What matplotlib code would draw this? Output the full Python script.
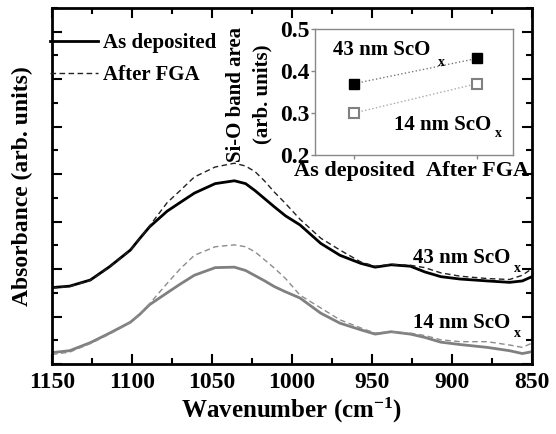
import matplotlib
matplotlib.use("Agg")
import matplotlib.pyplot as plt
from matplotlib.ticker import MultipleLocator

plt.rcParams['font.family'] = ['Liberation Serif', 'DejaVu Serif']
plt.rcParams['font.weight'] = 'bold'
plt.rcParams['axes.labelweight'] = 'bold'
plt.rcParams['mathtext.fontset'] = 'custom'
plt.rcParams['mathtext.rm'] = 'Liberation Serif:bold'
plt.rcParams['mathtext.it'] = 'Liberation Serif:bold'
plt.rcParams['mathtext.bf'] = 'Liberation Serif:bold'

# FTIR spectra (wavenumber in cm-1, absorbance offset in arb. units)
wavenumber = [1150, 1139, 1126, 1114, 1101, 1095, 1089, 1078, 1070, 1061, 1048, 1036,
              1029, 1023, 1017, 1011, 1004, 995, 982, 970, 957, 948, 938, 926, 917,
              907, 895, 878, 864, 856, 850]
thick_asdep = [1.61, 1.64, 1.77, 2.05, 2.40, 2.65, 2.89, 3.22, 3.40, 3.60, 3.80, 3.86,
               3.80, 3.65, 3.48, 3.31, 3.12, 2.93, 2.54, 2.29, 2.12, 2.04, 2.09, 2.06,
               1.94, 1.84, 1.79, 1.75, 1.72, 1.75, 1.84]
thick_fga = [1.60, 1.63, 1.76, 2.04, 2.40, 2.65, 2.91, 3.40, 3.65, 3.94, 4.15, 4.23,
             4.17, 4.05, 3.85, 3.62, 3.38, 3.05, 2.65, 2.40, 2.15, 2.06, 2.10, 2.08,
             2.03, 1.92, 1.85, 1.80, 1.78, 1.87, 2.01]
thin_asdep = [0.24, 0.28, 0.45, 0.65, 0.88, 1.05, 1.25, 1.50, 1.68, 1.87, 2.03, 2.04,
              1.97, 1.86, 1.75, 1.63, 1.52, 1.39, 1.07, 0.86, 0.72, 0.63, 0.68, 0.63,
              0.56, 0.46, 0.41, 0.35, 0.28, 0.22, 0.26]
thin_fga = [0.20, 0.25, 0.43, 0.63, 0.87, 1.05, 1.27, 1.70, 2.00, 2.29, 2.47, 2.51,
            2.47, 2.36, 2.19, 2.02, 1.80, 1.45, 1.18, 0.93, 0.76, 0.65, 0.68, 0.65,
            0.60, 0.51, 0.47, 0.47, 0.40, 0.35, 0.44]

# inset: Si-O band area
conditions = ['As deposited', 'After FGA']
area_43nm = [0.37, 0.43]
area_14nm = [0.30, 0.37]

fig = plt.figure(figsize=(5.56, 4.34), dpi=100)
ax = fig.add_axes([0.0935, 0.1613, 0.8633, 0.8203])

ax.plot(wavenumber, thick_asdep, color='black', lw=2.0, label='As deposited')
ax.plot(wavenumber, thick_fga, color='#222222', lw=1.0, ls=(0, (4, 2.5)), label='After FGA')
ax.plot(wavenumber, thin_asdep, color='#808080', lw=2.0)
ax.plot(wavenumber, thin_fga, color='#8c8c8c', lw=1.0, ls=(0, (4, 2.5)))

ax.set_xlim(1150, 850)
ax.set_ylim(0, 7.5)
ax.xaxis.set_major_locator(MultipleLocator(50))
ax.xaxis.set_minor_locator(MultipleLocator(25))
ax.yaxis.set_major_locator(MultipleLocator(1))
ax.yaxis.set_minor_locator(MultipleLocator(0.5))
ax.tick_params(which='both', direction='in', top=True, right=True, width=1.5)
ax.tick_params(which='major', length=7, labelsize=17, pad=6)
ax.tick_params(which='minor', length=4)
ax.set_yticklabels([])
for s in ax.spines.values():
    s.set_linewidth(2)

ax.set_xlabel('Wavenumber (cm$^{-1}$)', fontsize=18, labelpad=2)
ax.set_ylabel('Absorbance (arb. units)', fontsize=17, labelpad=8)

ax.legend(loc='upper left', bbox_to_anchor=(-0.005, 0.93), frameon=False, fontsize=15,
          handlelength=2.3, handletextpad=0.25, labelspacing=0.6, borderaxespad=0,
          borderpad=0)

# annotations on main plot
ax.text(0.955, 0.284, '43 nm ScO', transform=ax.transAxes, ha='right',
        va='baseline', fontsize=15)
ax.text(0.969, 0.258, 'x', transform=ax.transAxes, ha='center',
        va='baseline', fontsize=10)
ax.text(0.955, 0.101, '14 nm ScO', transform=ax.transAxes, ha='right',
        va='baseline', fontsize=15)
ax.text(0.969, 0.076, 'x', transform=ax.transAxes, ha='center',
        va='baseline', fontsize=10)

# inset
ins = fig.add_axes([0.5665, 0.6429, 0.3561, 0.2903])
xpos = [0, 1]
ins.plot(xpos, area_43nm, ls=':', color='#777777', lw=1.0, marker='s', ms=7,
         mfc='black', mec='black')
ins.plot(xpos, area_14nm, ls=':', color='#aaaaaa', lw=1.0, marker='s', ms=6.5,
         mfc='white', mec='#808080', mew=1.5)
ins.set_xlim(-0.32, 1.29)
ins.set_ylim(0.2, 0.5)
ins.set_xticks(xpos)
ins.set_xticklabels(conditions)
ins.yaxis.set_major_locator(MultipleLocator(0.1))
ins.tick_params(direction='out', length=3, width=1, color='#888888', labelsize=16, pad=1)
ins.tick_params(axis='y', labelsize=17)
for s in ins.spines.values():
    s.set_linewidth(1)
    s.set_color('#888888')
ins.set_ylabel('Si-O band area\n(arb. units)', fontsize=15, linespacing=1.4)
ins.yaxis.set_label_coords(-0.215, 0.48)
ins.text(0.09, 0.79, '43 nm ScO', transform=ins.transAxes, fontsize=15, va='baseline')
ins.text(0.62, 0.71, 'x', transform=ins.transAxes, fontsize=10, va='baseline')
ins.text(0.40, 0.20, '14 nm ScO', transform=ins.transAxes, fontsize=15, va='baseline')
ins.text(0.925, 0.14, 'x', transform=ins.transAxes, fontsize=10, va='baseline', ha='center')

fig.savefig('out.png', dpi=100, facecolor='white')
